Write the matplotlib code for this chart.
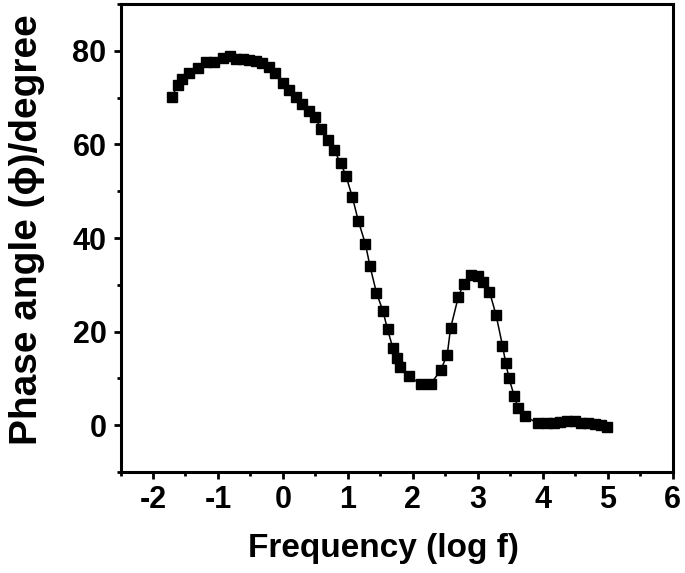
import matplotlib
matplotlib.use("Agg")
import matplotlib.pyplot as plt
from matplotlib.ticker import MultipleLocator

log_f = [-1.71, -1.62, -1.55, -1.44, -1.31, -1.19, -1.06, -0.92, -0.82, -0.72,
         -0.62, -0.52, -0.41, -0.32, -0.22, -0.12, 0.00, 0.10, 0.20, 0.29,
         0.40, 0.49, 0.59, 0.69, 0.79, 0.89, 0.97, 1.07, 1.16, 1.27,
         1.34, 1.44, 1.54, 1.61, 1.69, 1.76, 1.81, 1.94, 2.12, 2.28,
         2.43, 2.53, 2.58, 2.70, 2.78, 2.89, 3.00, 3.08, 3.18, 3.28,
         3.38, 3.43, 3.48, 3.56, 3.62, 3.72, 3.92, 4.07, 4.17, 4.27,
         4.38, 4.49, 4.59, 4.70, 4.80, 4.90, 4.99]
phase = [70.1, 72.7, 73.9, 75.3, 76.4, 77.7, 77.7, 78.5, 78.9, 78.2,
         78.2, 78.1, 77.8, 77.5, 76.6, 75.2, 73.2, 71.7, 70.1, 68.6,
         67.1, 65.8, 63.3, 61.0, 58.7, 56.0, 53.3, 48.7, 43.7, 38.7,
         34.0, 28.3, 24.4, 20.5, 16.6, 14.3, 12.5, 10.6, 8.7, 8.9,
         11.8, 15.1, 20.7, 27.4, 30.2, 32.1, 31.9, 30.7, 28.5, 23.6,
         17.0, 13.3, 10.0, 6.3, 3.7, 2.0, 0.4, 0.5, 0.4, 0.7,
         1.0, 1.0, 0.5, 0.4, 0.2, 0.1, -0.4]

x_ticks = [-2, -1, 0, 1, 2, 3, 4, 5, 6]
y_ticks = [0, 20, 40, 60, 80]
x_label = 'Frequency (log f)'
y_label = 'Phase angle (\u03d5)/degree'

plt.rcParams['font.family'] = ['Liberation Sans', 'DejaVu Sans']
plt.rcParams['font.weight'] = 'bold'
plt.rcParams['axes.unicode_minus'] = False

W, H = 685, 573
fig = plt.figure(figsize=(W / 100, H / 100), dpi=100)
ax = fig.add_axes([120.5 / W, 1 - 472 / H, (672.7 - 120.5) / W, (472 - 4) / H])

ax.plot(log_f, phase, color='black', lw=1.1, marker='s', markersize=6.7,
        markerfacecolor='black', markeredgecolor='black')

ax.set_xlim(-2.5, 6)
ax.set_ylim(-10, 90)
ax.set_xticks(x_ticks)
ax.set_xticklabels([str(t) for t in x_ticks])
ax.set_yticks(y_ticks)
ax.set_yticklabels([str(t) for t in y_ticks])
ax.xaxis.set_minor_locator(MultipleLocator(0.5))
ax.yaxis.set_minor_locator(MultipleLocator(10))

for s in ax.spines.values():
    s.set_linewidth(2.2)

ax.tick_params(which='major', direction='out', length=5, width=2, labelsize=22)
ax.tick_params(axis='y', which='major', pad=5)
ax.tick_params(axis='x', which='major', pad=4)
ax.tick_params(which='minor', direction='out', length=3, width=2)
for lab in ax.get_xticklabels() + ax.get_yticklabels():
    lab.set_fontweight('bold')

fig.text(383 / W, 1 - 556.7 / H, x_label, fontsize=24, fontweight='bold',
         ha='center', va='baseline')
fig.text(37 / W, 1 - 230 / H, y_label, fontsize=28, fontweight='bold',
         ha='center', va='baseline', rotation=90, rotation_mode='anchor')

fig.savefig('out.png', dpi=100)
